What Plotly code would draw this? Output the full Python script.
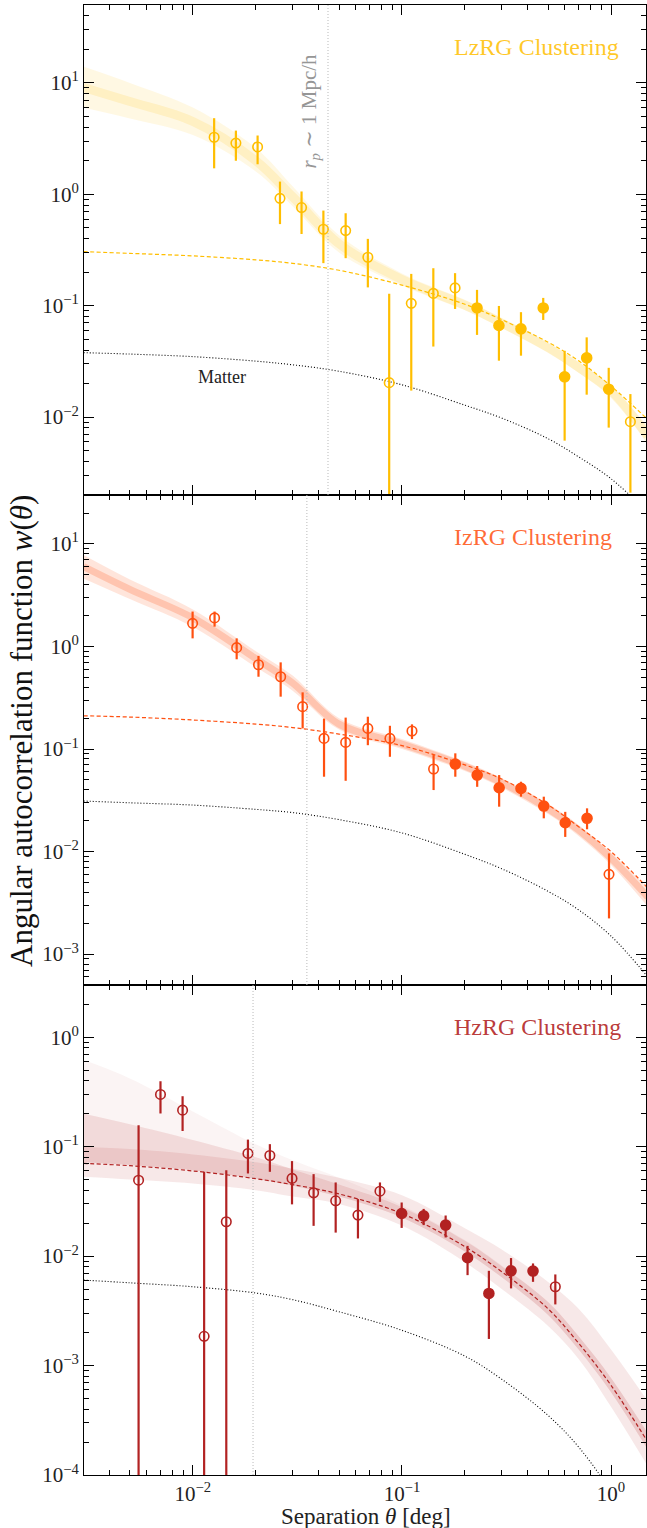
import math
import plotly.graph_objects as go
from plotly.subplots import make_subplots

# ---------------- data ----------------
# model grid (deg)
m_theta = [0.003, 0.005, 0.01, 0.02, 0.03, 0.05, 0.1, 0.2, 0.3, 0.5, 0.7, 1.0, 1.5]

# LzRG
lz_theta = [0.01264, 0.01606, 0.0204, 0.0261, 0.0331, 0.0421, 0.0538, 0.0687, 0.0869, 0.1108,
            0.1413, 0.1795, 0.2286, 0.291, 0.371, 0.474, 0.600, 0.765, 0.975, 1.238]
lz_w = [3.25, 2.88, 2.66, 0.92, 0.76, 0.486, 0.472, 0.272, 0.0204, 0.105,
        0.129, 0.1445, 0.0955, 0.0664, 0.062, 0.0955, 0.023, 0.034, 0.0178, 0.0091]
lz_hi = [4.82, 3.73, 3.37, 1.30, 1.06, 0.714, 0.676, 0.398, 0.128, 0.193,
         0.217, 0.196, 0.1387, 0.0995, 0.0875, 0.1175, 0.0394, 0.052, 0.0277, 0.0161]
lz_lo = [1.71, 2.0, 1.86, 0.54, 0.44, 0.241, 0.267, 0.146, 1e-7, 0.0173,
         0.043, 0.0935, 0.0547, 0.0321, 0.0356, 0.0745, 0.00615, 0.0159, 0.00805, 0.0021]
lz_filled = [False] * 12 + [True] * 7 + [False]
lz_fit = [0.306, 0.295, 0.28, 0.258, 0.24, 0.208, 0.153, 0.103, 0.075, 0.047, 0.032, 0.019, 0.0095]
lz_matter = [0.0379, 0.0368, 0.0349, 0.0318, 0.0295, 0.0258, 0.0195, 0.0128, 0.0098, 0.0064, 0.0044, 0.0028, 0.0014]
lz_band_mid = [9.1, 6.8, 4.5, 2.0, 0.95, 0.36, 0.172, 0.101, 0.070, 0.042, 0.028, 0.017, 0.0068]
lz_band_hi = [14.0, 10.0, 6.0, 2.6, 1.18, 0.43, 0.195, 0.113, 0.077, 0.046, 0.031, 0.019, 0.0082]
lz_band_lo = [6.0, 4.8, 3.4, 1.6, 0.78, 0.30, 0.152, 0.091, 0.063, 0.038, 0.025, 0.0152, 0.0056]
lz_rp = 0.0443

# IzRG
iz_theta = [0.00997, 0.0127, 0.0162, 0.0206, 0.0263, 0.0335, 0.0424, 0.0538, 0.0687, 0.0876,
            0.1117, 0.1417, 0.180, 0.229, 0.2917, 0.371, 0.477, 0.604, 0.768, 0.978]
iz_w = [1.68, 1.90, 0.974, 0.664, 0.507, 0.259, 0.127, 0.116, 0.159, 0.127,
        0.150, 0.0638, 0.0714, 0.0557, 0.0419, 0.0413, 0.0278, 0.0191, 0.0211, 0.006]
iz_hi = [2.19, 2.19, 1.20, 0.81, 0.70, 0.357, 0.198, 0.2025, 0.2065, 0.1685,
         0.174, 0.0873, 0.0908, 0.0683, 0.0557, 0.048, 0.0343, 0.0244, 0.0264, 0.0096]
iz_lo = [1.20, 1.56, 0.75, 0.507, 0.324, 0.159, 0.0537, 0.049, 0.109, 0.084,
         0.125, 0.0398, 0.0537, 0.0428, 0.0274, 0.0343, 0.0211, 0.0139, 0.0165, 0.00223]
iz_filled = [False] * 12 + [True] * 7 + [False]
iz_fit = [0.211, 0.205, 0.192, 0.175, 0.162, 0.140, 0.108, 0.070, 0.051, 0.0285, 0.0175, 0.0100, 0.0044]
iz_matter = [0.0311, 0.0299, 0.0284, 0.0258, 0.0240, 0.0205, 0.0152, 0.0094, 0.0068, 0.0041, 0.0027, 0.0015, 0.0006]
iz_band_mid = [6.0, 3.6, 1.9, 0.76, 0.44, 0.175, 0.112, 0.068, 0.047, 0.0262, 0.0162, 0.0086, 0.0036]
iz_band_hi = [7.8, 4.5, 2.3, 0.90, 0.52, 0.20, 0.125, 0.075, 0.052, 0.0292, 0.0182, 0.0098, 0.0044]
iz_band_lo = [4.6, 2.9, 1.55, 0.63, 0.37, 0.155, 0.100, 0.061, 0.042, 0.0232, 0.0142, 0.0074, 0.0029]
iz_rp = 0.0351

# HzRG
hz_theta = [0.0055, 0.0070, 0.00893, 0.01132, 0.01445, 0.01834, 0.02335, 0.0298, 0.0378, 0.0482,
            0.0616, 0.0785, 0.0997, 0.127, 0.1618, 0.206, 0.2605, 0.3325, 0.4236, 0.5415]
hz_w = [0.0494, 0.300, 0.2155, 0.00185, 0.0206, 0.0867, 0.0831, 0.0513, 0.0379, 0.032,
        0.0237, 0.0392, 0.0245, 0.0233, 0.0192, 0.00966, 0.00456, 0.00734, 0.0073, 0.00525]
hz_hi = [0.157, 0.396, 0.289, 0.0589, 0.061, 0.116, 0.1054, 0.0738, 0.0561, 0.0471,
         0.0332, 0.0471, 0.0309, 0.027, 0.0235, 0.0124, 0.00734, 0.0096, 0.00857, 0.0068]
hz_lo = [1e-7, 0.201, 0.139, 1e-7, 1e-7, 0.0569, 0.0589, 0.0297, 0.0189, 0.0164,
         0.0145, 0.0313, 0.0181, 0.0192, 0.0148, 0.0067, 0.00175, 0.00507, 0.00582, 0.00362]
hz_filled = [False] * 12 + [True] * 7 + [False]
hz_fit = [0.0703, 0.067, 0.060, 0.051, 0.045, 0.037, 0.0245, 0.0122, 0.0072, 0.0033, 0.0016, 0.00066, 0.0002]
hz_matter = [0.00604, 0.0057, 0.00525, 0.0046, 0.0040, 0.0031, 0.0021, 0.00122, 0.00075, 0.00035, 0.00018, 0.00007, 0.000018]
hz_outer_hi = [0.100, 0.095, 0.085, 0.072, 0.063, 0.052, 0.036, 0.018, 0.0115, 0.0058, 0.0033, 0.0014, 0.00047]
hz_outer_lo = [0.053, 0.050, 0.046, 0.040, 0.035, 0.030, 0.019, 0.0088, 0.0050, 0.0023, 0.00115, 0.00042, 0.00012]
hz_core_hi = [0.20, 0.16, 0.115, 0.080, 0.062, 0.045, 0.028, 0.0138, 0.0081, 0.0038, 0.00185, 0.00077, 0.00024]
hz_core_lo = [0.072, 0.068, 0.061, 0.051, 0.044, 0.035, 0.0225, 0.0110, 0.0064, 0.0029, 0.0014, 0.00057, 0.00017]
hz_fan_hi = [0.62, 0.42, 0.21, 0.105, 0.075, 0.052, 0.029, 0.0140, 0.0082, 0.0038, 0.00185, 0.00077, 0.00024]
hz_rp = 0.0194

# tick labels
x_tickvals = [0.01, 0.1, 1.0]
x_ticktext = ["10<sup>−2</sup>", "10<sup>−1</sup>", "10<sup>0</sup>"]
y1_tickvals = [0.01, 0.1, 1.0, 10.0]
y1_ticktext = ["10<sup>−2</sup>", "10<sup>−1</sup>", "10<sup>0</sup>", "10<sup>1</sup>"]
y2_tickvals = [0.001, 0.01, 0.1, 1.0, 10.0]
y2_ticktext = ["10<sup>−3</sup>", "10<sup>−2</sup>", "10<sup>−1</sup>", "10<sup>0</sup>", "10<sup>1</sup>"]
y3_tickvals = [0.0001, 0.001, 0.01, 0.1, 1.0]
y3_ticktext = ["10<sup>−4</sup>", "10<sup>−3</sup>", "10<sup>−2</sup>", "10<sup>−1</sup>", "10<sup>0</sup>"]

# ---------------- styling ----------------
FONT = "Liberation Serif, DejaVu Serif, serif"
L_RGB = (255, 190, 0)
I_RGB = (255, 80, 16)
H_RGB = (178, 34, 34)


def rgba(c, a):
    return "rgba(%d,%d,%d,%.3f)" % (c[0], c[1], c[2], a)


def rgb(c):
    return "rgb(%d,%d,%d)" % c


fig = make_subplots(rows=3, cols=1, shared_xaxes=True, vertical_spacing=0)


def add_band(row, lo, hi, color):
    fig.add_trace(go.Scatter(x=m_theta, y=lo, mode="lines",
                             line=dict(width=0, shape="spline", color=color),
                             showlegend=False, hoverinfo="skip"), row=row, col=1)
    fig.add_trace(go.Scatter(x=m_theta, y=hi, mode="lines",
                             line=dict(width=0, shape="spline", color=color),
                             fill="tonexty", fillcolor=color,
                             showlegend=False, hoverinfo="skip"), row=row, col=1)


def add_line(row, y, color, width, dash=None):
    fig.add_trace(go.Scatter(x=m_theta, y=y, mode="lines",
                             line=dict(width=width, shape="spline", color=color, dash=dash),
                             showlegend=False, hoverinfo="skip"), row=row, col=1)


def add_points(row, th, w, lo, hi, filled, c):
    col = rgb(c)
    for want in (False, True):
        xs = [t for t, f in zip(th, filled) if f == want]
        ys = [v for v, f in zip(w, filled) if f == want]
        ep = [h - v for h, v, f in zip(hi, w, filled) if f == want]
        em = [v - l for l, v, f in zip(lo, w, filled) if f == want]
        fig.add_trace(go.Scatter(
            x=xs, y=ys, mode="markers",
            marker=dict(symbol="circle" if want else "circle-open", size=10 if want else 9.5,
                        color=col, line=dict(width=1.6, color=col)),
            error_y=dict(type="data", symmetric=False, array=ep, arrayminus=em,
                         color=col, thickness=2.2, width=0),
            showlegend=False, hoverinfo="skip"), row=row, col=1)


# top panel (LzRG)
add_band(1, lz_band_lo, lz_band_hi, rgba(L_RGB, 0.11))
add_line(1, lz_band_mid, rgba(L_RGB, 0.14), 9)
add_line(1, lz_fit, rgb(L_RGB), 1.2, "4px,2.5px")
add_line(1, lz_matter, "black", 1.1, "1px,2px")
add_points(1, lz_theta, lz_w, lz_lo, lz_hi, lz_filled, L_RGB)

# middle panel (IzRG)
add_band(2, iz_band_lo, iz_band_hi, rgba(I_RGB, 0.15))
add_line(2, iz_band_mid, rgba(I_RGB, 0.22), 7)
add_line(2, iz_fit, rgb(I_RGB), 1.2, "4px,2.5px")
add_line(2, iz_matter, "black", 1.1, "1px,2px")
add_points(2, iz_theta, iz_w, iz_lo, iz_hi, iz_filled, I_RGB)

# bottom panel (HzRG)
add_band(3, hz_outer_lo, hz_outer_hi, rgba(H_RGB, 0.10))
add_band(3, hz_core_lo, hz_fan_hi, rgba(H_RGB, 0.05))
add_band(3, hz_core_lo, hz_core_hi, rgba(H_RGB, 0.12))
add_line(3, hz_fit, rgb(H_RGB), 1.2, "4px,2.5px")
add_line(3, hz_matter, "black", 1.1, "1px,2px")
add_points(3, hz_theta, hz_w, hz_lo, hz_hi, hz_filled, H_RGB)

# vertical r_p lines
for row, xv in ((1, lz_rp), (2, iz_rp), (3, hz_rp)):
    fig.add_shape(type="line", x0=xv, x1=xv, y0=0, y1=1, yref="y%s domain" % ("" if row == 1 else row),
                  xref="x%s" % ("" if row == 1 else row),
                  line=dict(color="rgb(185,185,185)", width=1, dash="1px,2px"))

X_RANGE = [math.log10(0.003015), math.log10(1.47)]
Y_RANGES = {1: [math.log10(0.002), math.log10(50)],
            2: [math.log10(0.0005), math.log10(30)],
            3: [math.log10(0.0001), math.log10(3)]}
Y_TICKS = {1: (y1_tickvals, y1_ticktext), 2: (y2_tickvals, y2_ticktext), 3: (y3_tickvals, y3_ticktext)}


def minor_vals(lo_exp, hi_exp):
    return [m * 10.0 ** e for e in range(lo_exp, hi_exp + 1) for m in range(2, 10)]


axis_common = dict(type="log", showline=True, linecolor="black", linewidth=1,
                   mirror="allticks", ticks="inside", ticklen=10, tickwidth=1, tickcolor="black",
                   showgrid=False, zeroline=False,
                   tickfont=dict(family=FONT, size=21, color="#222"))

for row in (1, 2, 3):
    fig.update_xaxes(range=X_RANGE, tickmode="array", tickvals=x_tickvals, ticktext=x_ticktext,
                     showticklabels=(row == 3),
                     minor=dict(ticks="inside", ticklen=5, tickwidth=1, tickcolor="black",
                                tickmode="array", tickvals=minor_vals(-3, 0), showgrid=False),
                     **axis_common, row=row, col=1)
    tv, tt = Y_TICKS[row]
    fig.update_yaxes(range=Y_RANGES[row], tickmode="array", tickvals=tv, ticktext=tt,
                     minor=dict(ticks="inside", ticklen=5, tickwidth=1, tickcolor="black",
                                tickmode="array", tickvals=minor_vals(-5, 1), showgrid=False),
                     **axis_common, row=row, col=1)

# annotations
W_PLOT = 647 - 84 - 1
H_PLOT = 1528 - 5 - 53


def px(xp):
    return (xp - 84) / W_PLOT


def py(yp):
    return (1475 - yp) / H_PLOT


annots = [
    dict(text="LzRG Clustering", x=px(452), y=py(47), color=rgba(L_RGB, 0.85)),
    dict(text="IzRG Clustering", x=px(452), y=py(537), color=rgba(I_RGB, 0.85)),
    dict(text="HzRG Clustering", x=px(452), y=py(1027), color=rgba(H_RGB, 0.9)),
]
for a in annots:
    fig.add_annotation(text=a["text"], x=a["x"], y=a["y"], xref="paper", yref="paper",
                       xanchor="left", yanchor="middle", showarrow=False,
                       font=dict(family=FONT, size=24, color=a["color"]))

fig.add_annotation(text="Matter", x=math.log10(0.0138), y=math.log10(0.023), xref="x", yref="y",
                   showarrow=False, font=dict(family=FONT, size=18, color="#222"))
fig.add_annotation(text="<i>r</i><sub><i>p</i></sub> ∼ 1 Mpc/h", x=math.log10(0.0362), y=math.log10(5.6),
                   xref="x", yref="y", textangle=-90, showarrow=False,
                   font=dict(family=FONT, size=21, color="rgb(150,150,150)"))
fig.add_annotation(text="Angular autocorrelation function <i>w</i>(<i>θ</i>)", x=px(21), y=py(731),
                   xref="paper", yref="paper", textangle=-90, showarrow=False,
                   xanchor="center", yanchor="middle",
                   font=dict(family=FONT, size=31, color="#111"))
fig.add_annotation(text="Separation <i>θ</i> [deg]", x=px(366), y=py(1517),
                   xref="paper", yref="paper", showarrow=False, xanchor="center", yanchor="middle",
                   font=dict(family=FONT, size=23, color="#222"))

fig.update_layout(width=647, height=1528, margin=dict(l=84, r=1, t=5, b=53),
                  paper_bgcolor="white", plot_bgcolor="white", showlegend=False)

fig.write_html("out.html")
